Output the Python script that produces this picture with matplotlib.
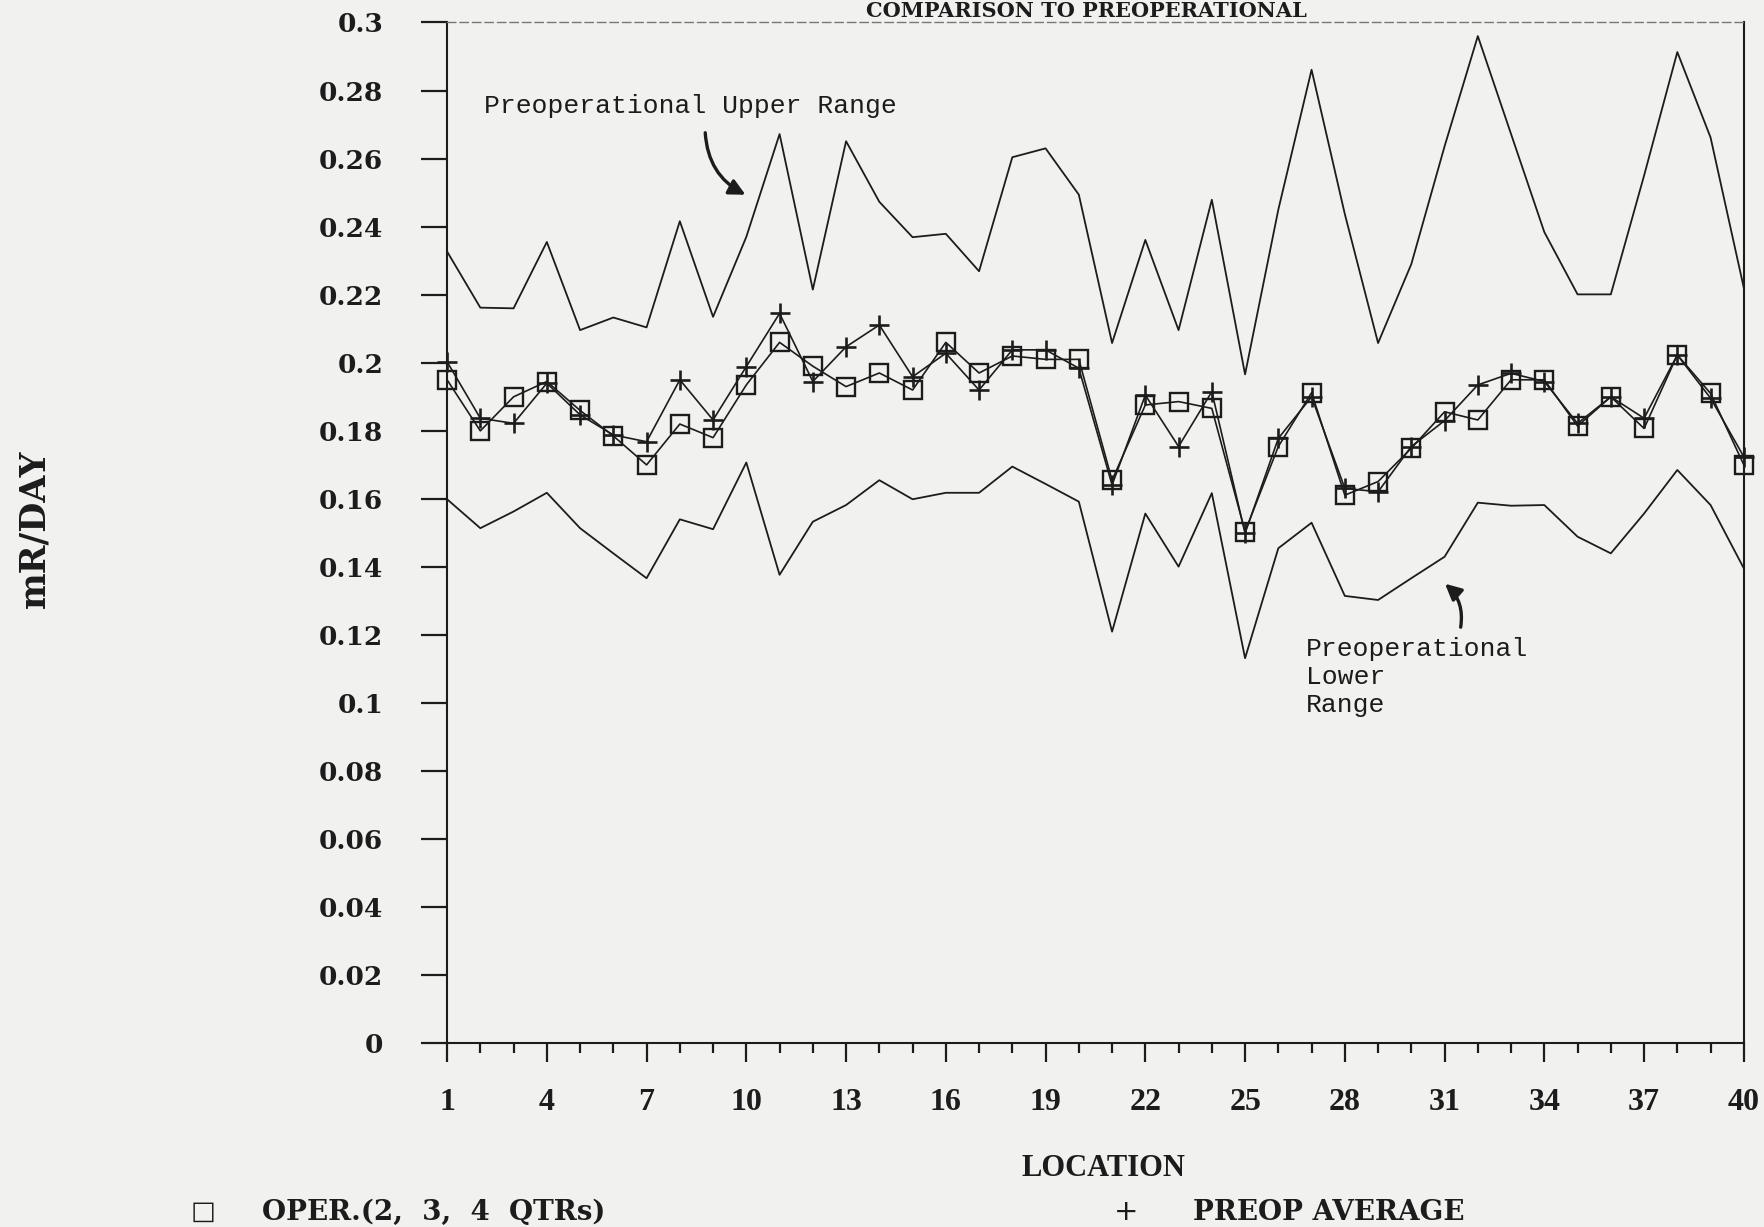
import numpy as np
import matplotlib
matplotlib.use("Agg")
import matplotlib.pyplot as plt
from matplotlib.ticker import FixedLocator, FixedFormatter, MultipleLocator

# --- data ---
locations = np.arange(1, 41)

oper = [0.195, 0.180, 0.190, 0.1945, 0.186, 0.1785, 0.170, 0.182, 0.178, 0.1935,
        0.206, 0.199, 0.193, 0.197, 0.192, 0.206, 0.197, 0.202, 0.201, 0.201,
        0.1655, 0.1876, 0.1886, 0.1866, 0.1504, 0.1754, 0.1912, 0.1611, 0.1651, 0.1749,
        0.1856, 0.1832, 0.195, 0.195, 0.1814, 0.190, 0.1807, 0.2023, 0.191, 0.170]

preop_avg = [0.2003, 0.1837, 0.1822, 0.194, 0.1847, 0.1788, 0.1768, 0.195, 0.1832, 0.1989,
             0.2145, 0.1945, 0.2047, 0.2111, 0.1959, 0.2028, 0.192, 0.2038, 0.2038, 0.1984,
             0.1641, 0.1905, 0.1754, 0.1915, 0.1499, 0.1778, 0.190, 0.1631, 0.1621, 0.1754,
             0.183, 0.1935, 0.1969, 0.1945, 0.1822, 0.190, 0.1837, 0.2023, 0.1896, 0.1724]

upper_range = [0.2327, 0.2162, 0.216, 0.2355, 0.2096, 0.2133, 0.2104, 0.2416, 0.2135, 0.237,
               0.2672, 0.2215, 0.2651, 0.2473, 0.2369, 0.2379, 0.2269, 0.2604, 0.263, 0.2494,
               0.2058, 0.2361, 0.2096, 0.2479, 0.1966, 0.245, 0.2861, 0.2437, 0.2058, 0.229,
               0.2636, 0.296, 0.2672, 0.2384, 0.2201, 0.2201, 0.255, 0.2913, 0.2662, 0.222]

lower_range = [0.1599, 0.1514, 0.1563, 0.1618, 0.1514, 0.144, 0.1367, 0.154, 0.1511, 0.1707,
               0.1377, 0.1533, 0.1582, 0.1655, 0.1599, 0.1618, 0.1618, 0.1695, 0.1644, 0.1592,
               0.121, 0.1557, 0.1401, 0.1617, 0.1132, 0.1455, 0.153, 0.1315, 0.1303, 0.1367,
               0.143, 0.1589, 0.158, 0.1582, 0.1489, 0.144, 0.1557, 0.1685, 0.1582, 0.1396]

x_ticks = [1, 4, 7, 10, 13, 16, 19, 22, 25, 28, 31, 34, 37, 40]
y_ticks = [0, 0.02, 0.04, 0.06, 0.08, 0.1, 0.12, 0.14, 0.16, 0.18, 0.2, 0.22, 0.24, 0.26, 0.28, 0.3]
y_tick_labels = ["0", "0.02", "0.04", "0.06", "0.08", "0.1", "0.12", "0.14", "0.16",
                 "0.18", "0.2", "0.22", "0.24", "0.26", "0.28", "0.3"]

INK = "#1c1c1c"
PAPER = "#f1f1ef"
WIDE_BOLD = "DejaVu Serif"       # y ticks, legend, y label
NARROW_BOLD = "Liberation Serif"  # x ticks, x label
MONO_FONT = "Liberation Mono"     # plotter annotations

fig = plt.figure(figsize=(17.65, 12.27), dpi=100, facecolor=PAPER)
ax = fig.add_axes([0.2533, 0.1496, 0.7347, 0.8321])
ax.set_facecolor(PAPER)

# range envelopes
ax.plot(locations, upper_range, color=INK, lw=1.3, clip_on=False)
ax.plot(locations, lower_range, color=INK, lw=1.3, clip_on=False)

# averages
ax.plot(locations, preop_avg, color=INK, lw=1.2, marker="+", ms=15, mew=1.9,
        clip_on=False, zorder=3)
ax.plot(locations, oper, color=INK, lw=1.2, marker="s", ms=13, mew=1.7,
        mfc="none", mec=INK, clip_on=False, zorder=4)

ax.set_xlim(1, 40)
ax.set_ylim(0, 0.3)

ax.xaxis.set_major_locator(FixedLocator(x_ticks))
ax.xaxis.set_minor_locator(MultipleLocator(1))
ax.yaxis.set_major_locator(FixedLocator(y_ticks))
ax.yaxis.set_major_formatter(FixedFormatter(y_tick_labels))

ax.tick_params(axis="x", which="major", direction="out", length=14, width=1.6,
               color=INK, pad=18, labelsize=23, labelcolor=INK)
ax.tick_params(axis="x", which="minor", direction="out", length=7, width=1.6, color=INK)
ax.tick_params(axis="y", which="major", direction="out", length=19, width=1.6,
               color=INK, pad=27, labelsize=19, labelcolor=INK)
for lab in ax.get_xticklabels():
    lab.set_fontfamily(NARROW_BOLD)
    lab.set_fontweight("bold")
for lab in ax.get_yticklabels():
    lab.set_fontfamily(WIDE_BOLD)
    lab.set_fontweight("bold")

for side in ["left", "bottom", "right"]:
    ax.spines[side].set_color(INK)
    ax.spines[side].set_linewidth(1.5)
ax.spines["top"].set_color("#777777")
ax.spines["top"].set_linewidth(1.0)
ax.spines["top"].set_linestyle((0, (6, 3)))

# axis titles
fig.text(34 / 1765, 1 - 529 / 1227, "mR/DAY", rotation=90, ha="center", va="center",
         fontsize=25, fontweight="bold", family=WIDE_BOLD, color=INK)
fig.text(1103 / 1765, 1 - 1168 / 1227, "LOCATION", ha="center", va="center",
         fontsize=22, fontweight="bold", family=NARROW_BOLD, color=INK)

# title (cropped at the top of the scan)
fig.text(1086 / 1765, 1 - 1 / 1227, "COMPARISON TO PREOPERATIONAL", ha="center",
         va="top", fontsize=15, fontweight="bold", family=WIDE_BOLD, color=INK)

# annotations
ax.text(2.1, 0.2755, "Preoperational Upper Range", ha="left", va="center",
        fontsize=19, family=MONO_FONT, color=INK)
ax.annotate("", xy=(10.05, 0.249), xytext=(8.76, 0.2684),
            arrowprops=dict(arrowstyle="-|>", color=INK, lw=2.4, mutation_scale=24,
                            connectionstyle="arc3,rad=0.3"))

ax.text(26.83, 0.1195, "Preoperational\nLower\nRange", ha="left", va="top",
        fontsize=19, family=MONO_FONT, color=INK, linespacing=1.22)
ax.annotate("", xy=(30.95, 0.1356), xytext=(31.47, 0.1215),
            arrowprops=dict(arrowstyle="-|>", color=INK, lw=2.4, mutation_scale=24,
                            connectionstyle="arc3,rad=0.3"))

# legend along the bottom edge
legend_y = 1 - 1212 / 1227
fig.text(203 / 1765, legend_y, "\u25a1", ha="center", va="center",
         fontsize=19, family="DejaVu Sans", color=INK)
fig.text(262 / 1765, legend_y, "OPER.(2,  3,  4  QTRs)", ha="left", va="center",
         fontsize=20, fontweight="bold", family=WIDE_BOLD, color=INK)
fig.text(1126 / 1765, legend_y, "+", ha="center", va="center",
         fontsize=21, family="DejaVu Sans", color=INK)
fig.text(1193 / 1765, legend_y, "PREOP AVERAGE", ha="left", va="center",
         fontsize=20, fontweight="bold", family=WIDE_BOLD, color=INK)

fig.savefig("out.png", dpi=100, facecolor=PAPER)
